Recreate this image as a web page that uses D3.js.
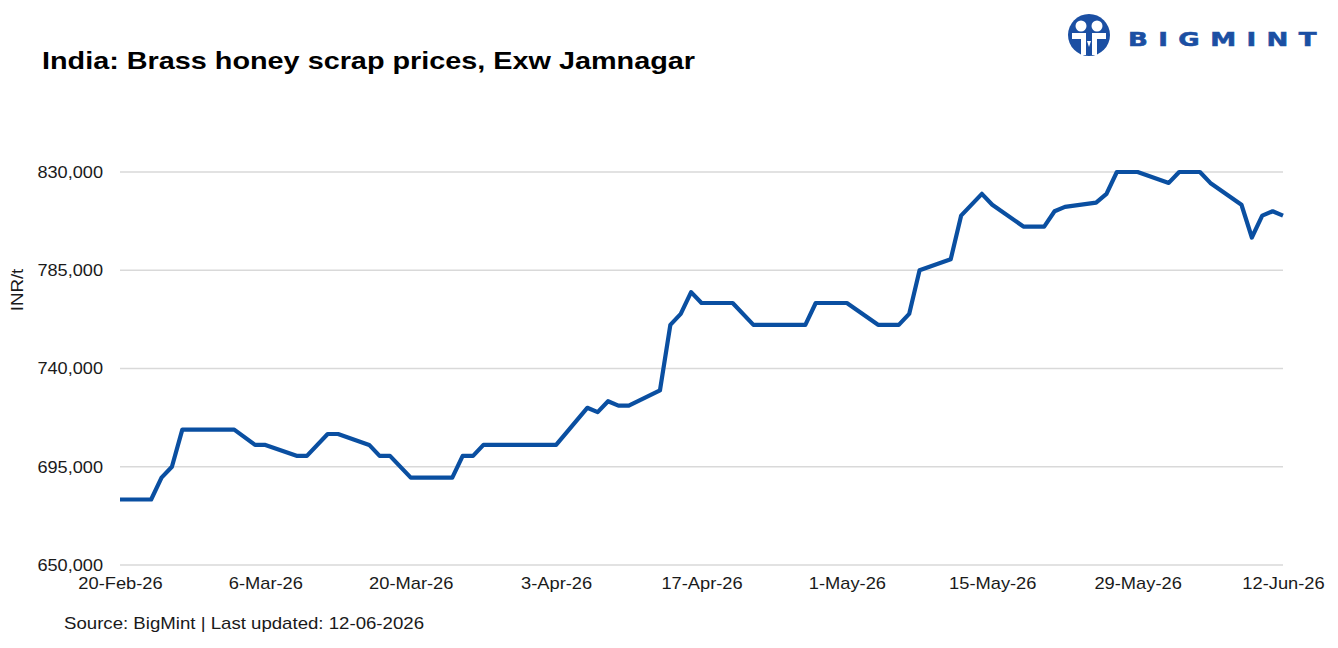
<!DOCTYPE html>
<html>
<head>
<meta charset="utf-8">
<script src="https://cdn.jsdelivr.net/npm/d3@7"></script>
<style>
  body { margin: 0; background: #fff; }
  svg { display: block; font-family: "Liberation Sans", Arial, sans-serif; }
</style>
</head>
<body>
<div id="chart"></div>
<script>
// price points (INR/t)
const dates = [
  "2026-02-20", "2026-02-23", "2026-02-24", "2026-02-25", "2026-02-26", "2026-03-03",
  "2026-03-05", "2026-03-06", "2026-03-09", "2026-03-10", "2026-03-12", "2026-03-13",
  "2026-03-16", "2026-03-17", "2026-03-18", "2026-03-20", "2026-03-24", "2026-03-25",
  "2026-03-26", "2026-03-27", "2026-04-03", "2026-04-06", "2026-04-07", "2026-04-08",
  "2026-04-09", "2026-04-10", "2026-04-13", "2026-04-14", "2026-04-15", "2026-04-16",
  "2026-04-17", "2026-04-20", "2026-04-22", "2026-04-27", "2026-04-28", "2026-05-01",
  "2026-05-04", "2026-05-06", "2026-05-07", "2026-05-08", "2026-05-11", "2026-05-12",
  "2026-05-14", "2026-05-15", "2026-05-18", "2026-05-20", "2026-05-21", "2026-05-22",
  "2026-05-25", "2026-05-26", "2026-05-27", "2026-05-29", "2026-06-01", "2026-06-02",
  "2026-06-04", "2026-06-05", "2026-06-08", "2026-06-09", "2026-06-10", "2026-06-11",
  "2026-06-12"
];
const prices = [
  680000, 680000, 690000, 695000, 712000, 712000,
  705000, 705000, 700000, 700000, 710000, 710000,
  705000, 700000, 700000, 690000, 690000, 700000,
  700000, 705000, 705000, 722000, 720000, 725000,
  723000, 723000, 730000, 760000, 765000, 775000,
  770000, 770000, 760000, 760000, 770000, 770000,
  760000, 760000, 765000, 785000, 790000, 810000,
  820000, 815000, 805000, 805000, 812000, 814000,
  816000, 820000, 830000, 830000, 825000, 830000,
  830000, 825000, 815000, 800000, 810000, 812000,
  810000
];
const yTicks = [650000, 695000, 740000, 785000, 830000];
const xTicks = ["2026-02-20", "2026-03-06", "2026-03-20", "2026-04-03", "2026-04-17",
  "2026-05-01", "2026-05-15", "2026-05-29", "2026-06-12"];

const title = "India: Brass honey scrap prices, Exw Jamnagar";
const source = "Source: BigMint | Last updated: 12-06-2026";

const W = 1338, H = 648;
const margin = { top: 172, right: 55, bottom: 83, left: 120 };
const parse = d3.utcParse("%Y-%m-%d");
const data = dates.map((d, i) => ({ date: parse(d), value: prices[i] }));

// the original font runs a bit wider than Arial, so stretch text a little
function widen(sel, k) {
  sel.each(function () {
    const len = this.getComputedTextLength();
    d3.select(this).attr("textLength", len * k).attr("lengthAdjust", "spacingAndGlyphs");
  });
}

const x = d3.scaleUtc()
  .domain([parse(dates[0]), parse(dates[dates.length - 1])])
  .range([margin.left, W - margin.right]);

const y = d3.scaleLinear()
  .domain([650000, 830000])
  .range([H - margin.bottom, margin.top]);

const svg = d3.select("#chart").append("svg")
  .attr("width", W)
  .attr("height", H);

// gridlines
svg.append("g")
  .selectAll("line")
  .data(yTicks)
  .join("line")
  .attr("x1", margin.left)
  .attr("x2", W - margin.right)
  .attr("y1", (d) => y(d))
  .attr("y2", (d) => y(d))
  .attr("stroke", "#d9d9d9")
  .attr("stroke-width", 1.5);

// y axis labels
const gY = svg.append("g")
  .attr("transform", `translate(${margin.left},0)`)
  .call(d3.axisLeft(y).tickValues(yTicks).tickFormat(d3.format(",")).tickSize(0).tickPadding(17));
gY.select(".domain").remove();
gY.selectAll("text")
  .attr("font-size", 16.5)
  .attr("fill", "#1a1a1a")
  .attr("font-family", "Liberation Sans, Arial, sans-serif")
  .call(widen, 1.1);

// x axis labels
const gX = svg.append("g")
  .attr("transform", `translate(0,${H - margin.bottom})`)
  .call(d3.axisBottom(x).tickValues(xTicks.map(parse)).tickFormat(d3.utcFormat("%-d-%b-%y")).tickSize(0).tickPadding(12));
gX.select(".domain").remove();
gX.selectAll("text")
  .attr("font-size", 17)
  .attr("fill", "#1a1a1a")
  .attr("font-family", "Liberation Sans, Arial, sans-serif")
  .call(widen, 1.075);

// axis title
svg.append("text")
  .attr("transform", `translate(23,290) rotate(-90)`)
  .attr("text-anchor", "middle")
  .attr("font-size", 17)
  .attr("fill", "#1a1a1a")
  .text("INR/t")
  .call(widen, 1.1);

// price line
const line = d3.line()
  .x((d) => x(d.date))
  .y((d) => y(d.value));

svg.append("path")
  .datum(data)
  .attr("fill", "none")
  .attr("stroke", "#0a4fa1")
  .attr("stroke-width", 4.2)
  .attr("stroke-linejoin", "round")
  .attr("d", line);

// title
svg.append("text")
  .attr("x", 42)
  .attr("y", 69)
  .attr("font-size", 24)
  .attr("font-weight", "bold")
  .attr("fill", "#000")
  .text(title)
  .attr("textLength", 653)
  .attr("lengthAdjust", "spacingAndGlyphs");

// source
svg.append("text")
  .attr("x", 64)
  .attr("y", 629)
  .attr("font-size", 17)
  .attr("fill", "#1a1a1a")
  .text(source)
  .attr("textLength", 360)
  .attr("lengthAdjust", "spacingAndGlyphs");

// logo
const logo = svg.append("g").attr("transform", "translate(1089,35)");
logo.append("circle").attr("r", 21).attr("fill", "#1b4fa3");
logo.append("circle").attr("cx", -8).attr("cy", -9).attr("r", 5.5).attr("fill", "#fff");
logo.append("circle").attr("cx", 8).attr("cy", -9).attr("r", 5.5).attr("fill", "#fff");
logo.append("path")
  .attr("d", "M-17,-2 L-3,-2 L-3,20 L-8,20 L-8,4 L-17,4 Z M17,-2 L3,-2 L3,20 L8,20 L8,4 L17,4 Z M-2,6 L0,12 L2,6 Z")
  .attr("fill", "#fff");
logo.append("text")
  .attr("x", 39)
  .attr("y", 10.5)
  .attr("font-family", "DejaVu Sans, sans-serif")
  .attr("font-size", 20)
  .attr("font-weight", "bold")
  .attr("letter-spacing", 8)
  .attr("fill", "#1b4fa3")
  .attr("stroke", "#1b4fa3")
  .attr("stroke-width", 0.6)
  .text("BIGMINT")
  .attr("textLength", 199)
  .attr("lengthAdjust", "spacingAndGlyphs");
</script>
</body>
</html>
